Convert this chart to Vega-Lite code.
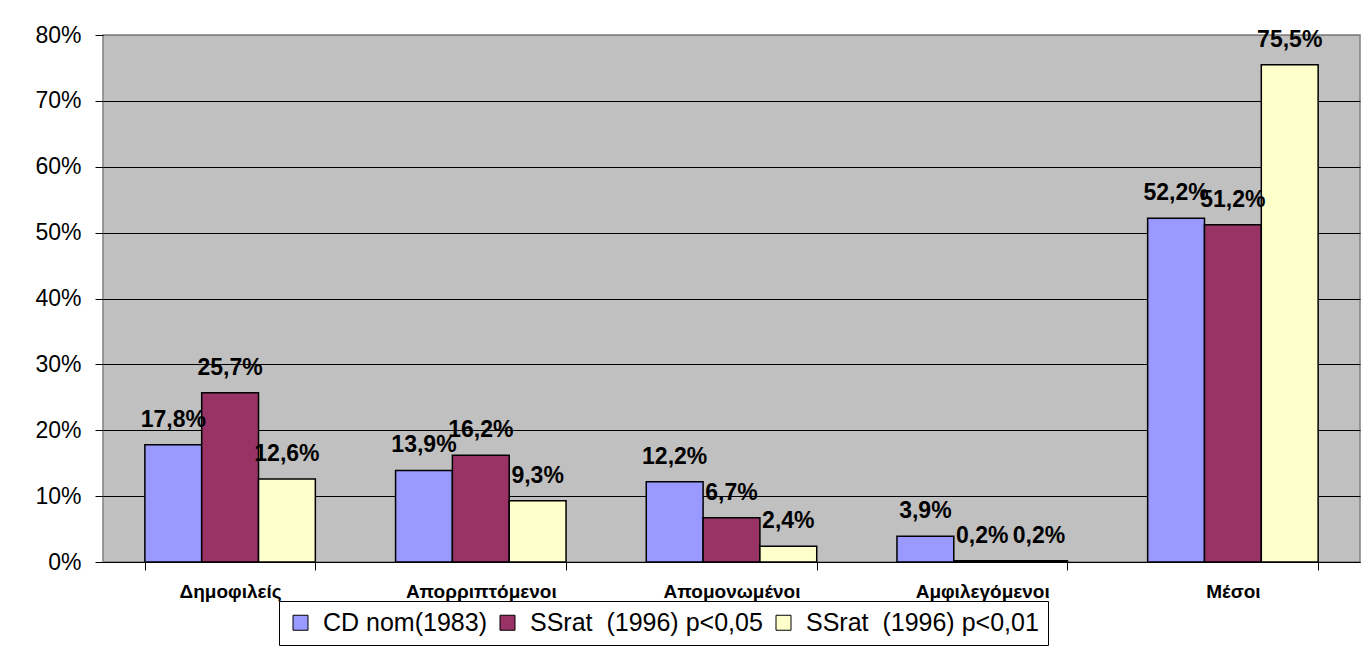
{
  "$schema": "https://vega.github.io/schema/vega-lite/v6.json",
  "width": 1257,
  "height": 527,
  "autosize": {"type": "none"},
  "padding": {"left": 103, "top": 35, "right": 8, "bottom": 106},
  "background": "white",
  "config": {
    "locale": {"number": {"decimal": ",", "thousands": ".", "grouping": [3], "currency": ["", " €"]}},
    "view": {"fill": "#C0C0C0", "stroke": "#808080", "strokeWidth": 1.5},
    "font": "Liberation Sans"
  },
  "data": {
    "values": [
      {"category": "Δημοφιλείς", "series": "CD nom(1983)", "value": 0.178},
      {"category": "Δημοφιλείς", "series": "SSrat\u00a0 (1996) p<0,05", "value": 0.257},
      {"category": "Δημοφιλείς", "series": "SSrat\u00a0 (1996) p<0,01", "value": 0.126},
      {"category": "Απορριπτόμενοι", "series": "CD nom(1983)", "value": 0.139},
      {"category": "Απορριπτόμενοι", "series": "SSrat\u00a0 (1996) p<0,05", "value": 0.162},
      {"category": "Απορριπτόμενοι", "series": "SSrat\u00a0 (1996) p<0,01", "value": 0.093},
      {"category": "Απομονωμένοι", "series": "CD nom(1983)", "value": 0.122},
      {"category": "Απομονωμένοι", "series": "SSrat\u00a0 (1996) p<0,05", "value": 0.067},
      {"category": "Απομονωμένοι", "series": "SSrat\u00a0 (1996) p<0,01", "value": 0.024},
      {"category": "Αμφιλεγόμενοι", "series": "CD nom(1983)", "value": 0.039},
      {"category": "Αμφιλεγόμενοι", "series": "SSrat\u00a0 (1996) p<0,05", "value": 0.002},
      {"category": "Αμφιλεγόμενοι", "series": "SSrat\u00a0 (1996) p<0,01", "value": 0.002},
      {"category": "Μέσοι", "series": "CD nom(1983)", "value": 0.522},
      {"category": "Μέσοι", "series": "SSrat\u00a0 (1996) p<0,05", "value": 0.512},
      {"category": "Μέσοι", "series": "SSrat\u00a0 (1996) p<0,01", "value": 0.755}
    ]
  },
  "encoding": {
    "x": {
      "field": "category",
      "type": "nominal",
      "sort": ["Δημοφιλείς", "Απορριπτόμενοι", "Απομονωμένοι", "Αμφιλεγόμενοι", "Μέσοι"],
      "scale": {"paddingInner": 0.32, "paddingOuter": 0.167},
      "axis": {
        "title": null,
        "labelAngle": 0,
        "tickBand": "extent",
        "tickColor": "black",
        "tickSize": 8,
        "domainColor": "black",
        "domainWidth": 1,
        "labelFontSize": 19,
        "labelFontWeight": "bold",
        "labelColor": "black",
        "labelPadding": 12,
        "labelFont": "Liberation Sans"
      }
    },
    "xOffset": {
      "field": "series",
      "type": "nominal",
      "sort": ["CD nom(1983)", "SSrat\u00a0 (1996) p<0,05", "SSrat\u00a0 (1996) p<0,01"],
      "scale": {"paddingInner": 0, "paddingOuter": 0}
    },
    "y": {
      "field": "value",
      "type": "quantitative",
      "scale": {"domain": [0, 0.8], "nice": false},
      "axis": {
        "title": null,
        "values": [0, 0.1, 0.2, 0.3, 0.4, 0.5, 0.6, 0.7, 0.8],
        "format": ".0%",
        "grid": true,
        "gridColor": {"condition": {"test": "datum.value >= 0.79", "value": "#808080"}, "value": "black"},
        "gridWidth": 1,
        "domain": false,
        "tickColor": "black",
        "tickSize": 8,
        "labelFontSize": 23,
        "labelColor": "black",
        "labelPadding": 14,
        "labelFont": "Liberation Sans"
      }
    }
  },
  "layer": [
    {
      "mark": {"type": "bar", "stroke": "black", "strokeWidth": 1.5},
      "encoding": {
        "color": {
          "field": "series",
          "type": "nominal",
          "scale": {
            "domain": ["CD nom(1983)", "SSrat\u00a0 (1996) p<0,05", "SSrat\u00a0 (1996) p<0,01"],
            "range": ["#9999FF", "#993366", "#FFFFCC"]
          },
          "legend": {
            "title": null,
            "orient": "none",
            "legendX": 176,
            "legendY": 566,
            "direction": "horizontal",
            "symbolType": "square",
            "symbolSize": 225,
            "symbolStrokeColor": "black",
            "symbolStrokeWidth": 1,
            "labelFontSize": 25,
            "labelColor": "black",
            "labelFont": "Liberation Sans",
            "labelLimit": 500,
            "strokeColor": "black",
            "fillColor": "white",
            "padding": 9,
            "columnPadding": 8,
            "labelOffset": 10
          }
        }
      }
    },
    {
      "mark": {"type": "text", "baseline": "alphabetic", "dy": -18, "fontSize": 23, "fontWeight": "bold", "color": "black", "font": "Liberation Sans"},
      "encoding": {
        "text": {"field": "value", "type": "quantitative", "format": ".1%"}
      }
    }
  ]
}
